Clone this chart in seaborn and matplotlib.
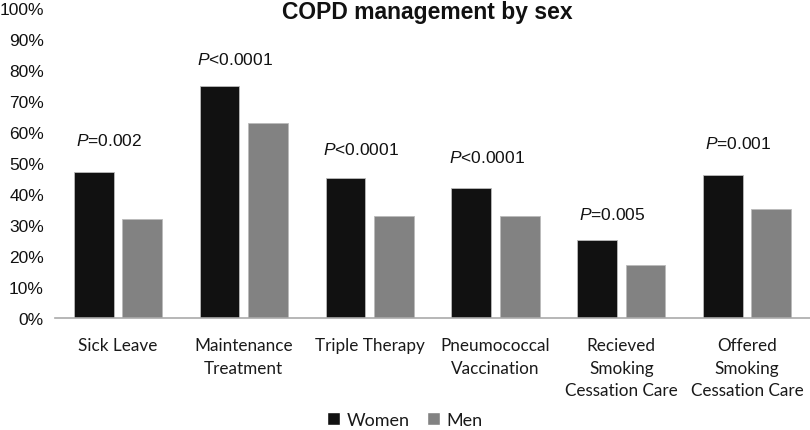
import matplotlib
matplotlib.use("Agg")
import matplotlib.pyplot as plt
import seaborn as sns
import pandas as pd
from matplotlib.ticker import PercentFormatter
from matplotlib.patches import Patch

categories = ["Sick Leave", "Maintenance\nTreatment", "Triple Therapy",
              "Pneumococcal\nVaccination", "Recieved\nSmoking\nCessation Care",
              "Offered\nSmoking\nCessation Care"]
women = [47, 75, 45, 42, 25, 46]
men = [32, 63, 33, 33, 17, 35]
p_labels = ["=0.002", "<0.0001", "<0.0001", "<0.0001", "=0.005", "=0.001"]
p_label_y = [57.5, 83.5, 54.5, 52, 33.5, 56.5]
yticks = list(range(0, 101, 10))

df = pd.DataFrame({
    "category": categories * 2,
    "value": women + men,
    "sex": ["Women"] * len(categories) + ["Men"] * len(categories),
})

sns.set_theme(style="white")
plt.rcParams["font.family"] = ["Liberation Sans", "DejaVu Sans"]
plt.rcParams["mathtext.fontset"] = "custom"
plt.rcParams["mathtext.it"] = "Liberation Sans:italic"
plt.rcParams["mathtext.rm"] = "Liberation Sans"

fig = plt.figure(figsize=(8.1, 4.31), dpi=100)
ax = fig.add_axes([0.068, 0.26, 0.932, 0.719])

sns.barplot(data=df, x="category", y="value", hue="sex",
            palette={"Women": "#111111", "Men": "#828282"},
            width=0.77, gap=0.18, ax=ax, legend=False, saturation=1,
            edgecolor="#bbbbbb", linewidth=0.6)

ax.set_ylim(0, 100)
ax.set_xlim(-0.5, len(categories) - 0.5)
ax.set_yticks(yticks)
ax.yaxis.set_major_formatter(PercentFormatter(decimals=0))
ax.tick_params(axis="y", labelsize=12.5, length=0, pad=8, colors="#111111")
ax.tick_params(axis="x", length=0, pad=14)
for lab in ax.get_xticklabels():
    lab.set_fontfamily(["Lato", "DejaVu Sans"])
    lab.set_fontsize(12.3)
    lab.set_color("#1a1a1a")
    lab.set_linespacing(1.5)
ax.set_xlabel("")
ax.set_ylabel("")
for s in ["left", "right", "top"]:
    ax.spines[s].set_visible(False)
ax.spines["bottom"].set_color("#aaaaaa")
ax.spines["bottom"].set_linewidth(1.2)

for i, (lab, yv) in enumerate(zip(p_labels, p_label_y)):
    ax.text(i - 0.07, yv, r"$\mathit{P}$" + lab, ha="center", va="center",
            fontsize=12.5, color="#111111")

fig.text(0.528, 0.97, "COPD management by sex", ha="center", va="center",
         fontsize=16.5, fontweight="bold", color="#111111")

handles = [Patch(facecolor="#111111", label="Women"),
           Patch(facecolor="#828282", label="Men")]
leg = fig.legend(handles=handles, loc="center", bbox_to_anchor=(0.5, 0.024),
                 ncol=2, frameon=False, handlelength=0.7, handleheight=0.7,
                 handletextpad=0.35, columnspacing=1.0, borderpad=0.1,
                 prop={"family": "Lato", "size": 13})
for t in leg.get_texts():
    t.set_color("#1a1a1a")

fig.savefig("out.png", dpi=100)
